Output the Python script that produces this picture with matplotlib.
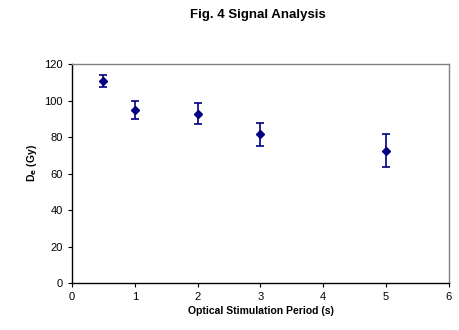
import matplotlib
matplotlib.use("Agg")
import matplotlib.pyplot as plt

plt.rcParams['font.family'] = ['Liberation Sans', 'DejaVu Sans']

period = [0.5, 1, 2, 3, 5]
de = [110.8, 95.0, 92.8, 81.6, 72.5]
err = [3.3, 5.0, 5.7, 6.3, 9.0]
xticks = [0, 1, 2, 3, 4, 5, 6]
yticks = [0, 20, 40, 60, 80, 100, 120]

fig = plt.figure(figsize=(4.59, 3.30), dpi=100)
ax = fig.add_axes([0.157, 0.142, 0.821, 0.664])
color = '#000080'
ax.errorbar(period, de, yerr=err, fmt='D', color=color, markersize=4.5,
            ecolor=color, elinewidth=1.2, capsize=3, capthick=1.2)
ax.set_xlim(0, 6)
ax.set_ylim(0, 120)
ax.set_xticks(xticks)
ax.set_yticks(yticks)
ax.tick_params(direction='out', length=3, labelsize=8, width=0.8)
for s in ['left', 'bottom']:
    ax.spines[s].set_color('black')
    ax.spines[s].set_linewidth(1)
for s in ['top', 'right']:
    ax.spines[s].set_color('#808080')
    ax.spines[s].set_linewidth(1)
ax.set_xlabel('Optical Stimulation Period (s)', fontsize=7.5, fontweight='bold', labelpad=3)
ax.set_ylabel(r'D$_\mathbf{e}$ (Gy)', fontsize=7.5, fontweight='bold')
ax.yaxis.set_label_coords(-0.088, 0.548)
fig.text(0.562, 0.955, 'Fig. 4 Signal Analysis', ha='center', va='center',
         fontsize=9.5, fontweight='bold')
fig.savefig('out.png', dpi=100)
